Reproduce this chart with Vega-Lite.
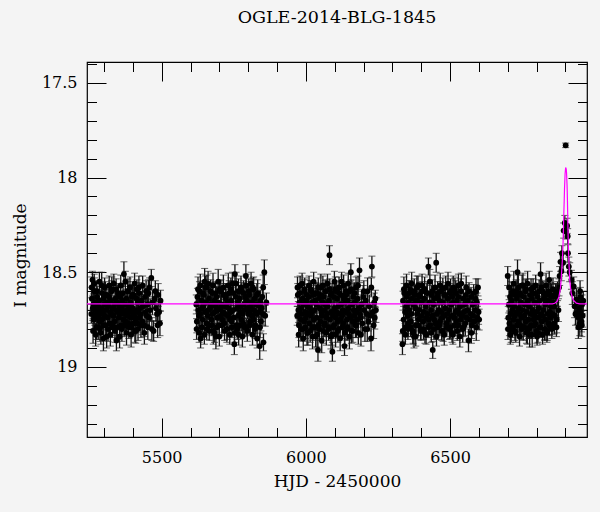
{
"$schema": "https://vega.github.io/schema/vega-lite/v6.json",
"width": 500, "height": 375,
"autosize": {"type": "none"},
"padding": {"left": 87, "top": 62, "right": 13, "bottom": 75},
"background": "#f4f4f4",
"config": {
  "view": {"stroke": "black", "strokeWidth": 1.2},
  "axis": {"domain": false, "grid": false, "tickColor": "black", "tickWidth": 1, "labelColor": "black", "labelFont": "DejaVu Serif", "labelFontSize": 16, "titleFont": "DejaVu Serif", "titleFontSize": 17, "titleFontWeight": "normal", "titleColor": "black"}
},
"title": {"text": "OGLE-2014-BLG-1845", "font": "DejaVu Serif", "fontSize": 17.5, "fontWeight": "normal", "color": "black", "baseline": "alphabetic", "offset": 21, "anchor": "middle"},
"datasets": {
"obs": [
{"t":5256,"m":18.72,"e":0.05},{"t":5258,"m":18.64,"e":0.06},{"t":5260,"m":18.54,"e":0.045},{"t":5261,"m":18.69,"e":0.065},{"t":5263,"m":18.67,"e":0.055},{"t":5265,"m":18.75,"e":0.05},{"t":5267,"m":18.60,"e":0.07},{"t":5268,"m":18.73,"e":0.05},{"t":5270,"m":18.70,"e":0.06},{"t":5272,"m":18.66,"e":0.045},
{"t":5274,"m":18.79,"e":0.065},{"t":5276,"m":18.63,"e":0.055},{"t":5277,"m":18.71,"e":0.05},{"t":5279,"m":18.68,"e":0.07},{"t":5281,"m":18.74,"e":0.05},{"t":5283,"m":18.65,"e":0.06},{"t":5285,"m":18.76,"e":0.045},{"t":5286,"m":18.80,"e":0.065},{"t":5288,"m":18.72,"e":0.055},{"t":5290,"m":18.69,"e":0.05},
{"t":5292,"m":18.57,"e":0.07},{"t":5294,"m":18.75,"e":0.05},{"t":5296,"m":18.71,"e":0.06},{"t":5297,"m":18.64,"e":0.045},{"t":5299,"m":18.78,"e":0.065},{"t":5301,"m":18.67,"e":0.055},{"t":5303,"m":18.73,"e":0.05},{"t":5305,"m":18.62,"e":0.07},{"t":5307,"m":18.70,"e":0.05},{"t":5309,"m":18.84,"e":0.06},
{"t":5311,"m":18.66,"e":0.045},{"t":5313,"m":18.74,"e":0.065},{"t":5315,"m":18.68,"e":0.055},{"t":5317,"m":18.63,"e":0.05},{"t":5319,"m":18.77,"e":0.07},{"t":5321,"m":18.71,"e":0.05},{"t":5323,"m":18.65,"e":0.06},{"t":5325,"m":18.72,"e":0.045},{"t":5327,"m":18.59,"e":0.065},{"t":5329,"m":18.79,"e":0.055},
{"t":5331,"m":18.69,"e":0.05},{"t":5333,"m":18.73,"e":0.07},{"t":5335,"m":18.67,"e":0.05},{"t":5337,"m":18.76,"e":0.06},{"t":5339,"m":18.64,"e":0.045},{"t":5341,"m":18.70,"e":0.065},{"t":5343,"m":18.86,"e":0.055},{"t":5345,"m":18.66,"e":0.05},{"t":5347,"m":18.71,"e":0.07},{"t":5349,"m":18.61,"e":0.05},
{"t":5351,"m":18.74,"e":0.06},{"t":5353,"m":18.68,"e":0.045},{"t":5355,"m":18.72,"e":0.065},{"t":5357,"m":18.63,"e":0.055},{"t":5359,"m":18.78,"e":0.05},{"t":5361,"m":18.69,"e":0.07},{"t":5363,"m":18.65,"e":0.05},{"t":5365,"m":18.71,"e":0.06},{"t":5367,"m":18.75,"e":0.045},{"t":5369,"m":18.51,"e":0.065},
{"t":5371,"m":18.72,"e":0.055},{"t":5373,"m":18.67,"e":0.05},{"t":5375,"m":18.76,"e":0.07},{"t":5377,"m":18.64,"e":0.05},{"t":5379,"m":18.70,"e":0.06},{"t":5381,"m":18.73,"e":0.045},{"t":5383,"m":18.60,"e":0.065},{"t":5385,"m":18.77,"e":0.055},{"t":5387,"m":18.68,"e":0.05},{"t":5389,"m":18.71,"e":0.07},
{"t":5391,"m":18.66,"e":0.05},{"t":5393,"m":18.74,"e":0.06},{"t":5395,"m":18.79,"e":0.045},{"t":5397,"m":18.63,"e":0.065},{"t":5399,"m":18.69,"e":0.055},{"t":5401,"m":18.72,"e":0.05},{"t":5403,"m":18.62,"e":0.07},{"t":5405,"m":18.73,"e":0.05},{"t":5407,"m":18.81,"e":0.06},{"t":5409,"m":18.75,"e":0.045},
{"t":5411,"m":18.70,"e":0.065},{"t":5413,"m":18.64,"e":0.055},{"t":5415,"m":18.77,"e":0.05},{"t":5417,"m":18.66,"e":0.07},{"t":5419,"m":18.71,"e":0.05},{"t":5421,"m":18.58,"e":0.06},{"t":5423,"m":18.74,"e":0.045},{"t":5425,"m":18.69,"e":0.065},{"t":5427,"m":18.72,"e":0.055},{"t":5430,"m":18.65,"e":0.05},
{"t":5433,"m":18.76,"e":0.07},{"t":5436,"m":18.68,"e":0.05},{"t":5439,"m":18.78,"e":0.06},{"t":5442,"m":18.63,"e":0.045},{"t":5445,"m":18.71,"e":0.065},{"t":5448,"m":18.73,"e":0.055},{"t":5451,"m":18.67,"e":0.05},{"t":5454,"m":18.61,"e":0.07},{"t":5457,"m":18.74,"e":0.05},{"t":5460,"m":18.70,"e":0.06},
{"t":5464,"m":18.53,"e":0.045},{"t":5468,"m":18.66,"e":0.065},{"t":5472,"m":18.81,"e":0.055},{"t":5476,"m":18.64,"e":0.05},{"t":5480,"m":18.69,"e":0.07},{"t":5484,"m":18.72,"e":0.05},{"t":5488,"m":18.62,"e":0.06},{"t":5491,"m":18.71,"e":0.045},{"t":5494,"m":18.77,"e":0.065},{"t":5496,"m":18.65,"e":0.055},
{"t":5257,"m":18.58,"e":0.055},{"t":5262,"m":18.81,"e":0.065},{"t":5266,"m":18.56,"e":0.05},{"t":5271,"m":18.83,"e":0.06},{"t":5275,"m":18.60,"e":0.055},{"t":5280,"m":18.79,"e":0.065},{"t":5284,"m":18.55,"e":0.05},{"t":5289,"m":18.82,"e":0.06},{"t":5293,"m":18.61,"e":0.055},{"t":5298,"m":18.85,"e":0.065},
{"t":5302,"m":18.58,"e":0.05},{"t":5306,"m":18.78,"e":0.06},{"t":5310,"m":18.62,"e":0.055},{"t":5314,"m":18.80,"e":0.065},{"t":5318,"m":18.57,"e":0.05},{"t":5322,"m":18.83,"e":0.06},{"t":5326,"m":18.60,"e":0.055},{"t":5330,"m":18.77,"e":0.065},{"t":5334,"m":18.56,"e":0.05},{"t":5338,"m":18.81,"e":0.06},
{"t":5342,"m":18.59,"e":0.055},{"t":5346,"m":18.79,"e":0.065},{"t":5350,"m":18.62,"e":0.05},{"t":5354,"m":18.84,"e":0.06},{"t":5358,"m":18.57,"e":0.055},{"t":5362,"m":18.80,"e":0.065},{"t":5366,"m":18.61,"e":0.05},{"t":5370,"m":18.78,"e":0.06},{"t":5374,"m":18.55,"e":0.055},{"t":5378,"m":18.82,"e":0.065},
{"t":5382,"m":18.60,"e":0.05},{"t":5386,"m":18.79,"e":0.06},{"t":5390,"m":18.58,"e":0.055},{"t":5394,"m":18.83,"e":0.065},{"t":5398,"m":18.62,"e":0.05},{"t":5402,"m":18.77,"e":0.06},{"t":5406,"m":18.56,"e":0.055},{"t":5410,"m":18.81,"e":0.065},{"t":5414,"m":18.59,"e":0.05},{"t":5418,"m":18.80,"e":0.06},
{"t":5422,"m":18.61,"e":0.055},{"t":5428,"m":18.78,"e":0.065},{"t":5434,"m":18.57,"e":0.05},{"t":5440,"m":18.82,"e":0.06},{"t":5446,"m":18.60,"e":0.055},{"t":5452,"m":18.79,"e":0.065},{"t":5458,"m":18.58,"e":0.05},{"t":5466,"m":18.80,"e":0.06},{"t":5478,"m":18.60,"e":0.055},{"t":5486,"m":18.78,"e":0.065},
{"t":5620,"m":18.67,"e":0.05},{"t":5622,"m":18.76,"e":0.06},{"t":5624,"m":18.63,"e":0.045},{"t":5627,"m":18.70,"e":0.065},{"t":5629,"m":18.73,"e":0.055},{"t":5631,"m":18.60,"e":0.05},{"t":5633,"m":18.72,"e":0.07},{"t":5635,"m":18.85,"e":0.05},{"t":5638,"m":18.65,"e":0.06},{"t":5640,"m":18.69,"e":0.045},
{"t":5642,"m":18.75,"e":0.065},{"t":5644,"m":18.68,"e":0.055},{"t":5646,"m":18.62,"e":0.05},{"t":5649,"m":18.55,"e":0.07},{"t":5651,"m":18.71,"e":0.05},{"t":5653,"m":18.66,"e":0.06},{"t":5655,"m":18.77,"e":0.045},{"t":5657,"m":18.58,"e":0.065},{"t":5660,"m":18.73,"e":0.055},{"t":5662,"m":18.70,"e":0.05},
{"t":5664,"m":18.64,"e":0.07},{"t":5666,"m":18.78,"e":0.05},{"t":5668,"m":18.69,"e":0.06},{"t":5671,"m":18.67,"e":0.045},{"t":5673,"m":18.75,"e":0.065},{"t":5675,"m":18.61,"e":0.055},{"t":5677,"m":18.72,"e":0.05},{"t":5679,"m":18.81,"e":0.07},{"t":5682,"m":18.65,"e":0.05},{"t":5684,"m":18.71,"e":0.06},
{"t":5686,"m":18.68,"e":0.045},{"t":5688,"m":18.84,"e":0.065},{"t":5690,"m":18.63,"e":0.055},{"t":5693,"m":18.74,"e":0.05},{"t":5695,"m":18.66,"e":0.07},{"t":5697,"m":18.70,"e":0.05},{"t":5699,"m":18.78,"e":0.06},{"t":5701,"m":18.59,"e":0.045},{"t":5704,"m":18.69,"e":0.065},{"t":5706,"m":18.73,"e":0.055},
{"t":5708,"m":18.67,"e":0.05},{"t":5710,"m":18.75,"e":0.07},{"t":5712,"m":18.71,"e":0.05},{"t":5715,"m":18.62,"e":0.06},{"t":5717,"m":18.77,"e":0.045},{"t":5719,"m":18.68,"e":0.065},{"t":5721,"m":18.72,"e":0.055},{"t":5723,"m":18.64,"e":0.05},{"t":5726,"m":18.80,"e":0.07},{"t":5728,"m":18.66,"e":0.05},
{"t":5730,"m":18.73,"e":0.06},{"t":5732,"m":18.69,"e":0.045},{"t":5734,"m":18.61,"e":0.065},{"t":5737,"m":18.75,"e":0.055},{"t":5739,"m":18.71,"e":0.05},{"t":5741,"m":18.65,"e":0.07},{"t":5743,"m":18.76,"e":0.05},{"t":5745,"m":18.56,"e":0.06},{"t":5748,"m":18.70,"e":0.045},{"t":5750,"m":18.74,"e":0.065},
{"t":5752,"m":18.88,"e":0.055},{"t":5754,"m":18.51,"e":0.05},{"t":5756,"m":18.63,"e":0.07},{"t":5759,"m":18.78,"e":0.05},{"t":5761,"m":18.69,"e":0.06},{"t":5763,"m":18.66,"e":0.045},{"t":5765,"m":18.73,"e":0.065},{"t":5767,"m":18.83,"e":0.055},{"t":5770,"m":18.64,"e":0.05},{"t":5772,"m":18.71,"e":0.07},
{"t":5774,"m":18.68,"e":0.05},{"t":5776,"m":18.75,"e":0.06},{"t":5778,"m":18.60,"e":0.045},{"t":5781,"m":18.72,"e":0.065},{"t":5783,"m":18.77,"e":0.055},{"t":5785,"m":18.67,"e":0.05},{"t":5787,"m":18.70,"e":0.07},{"t":5789,"m":18.63,"e":0.05},{"t":5792,"m":18.52,"e":0.06},{"t":5794,"m":18.79,"e":0.045},
{"t":5796,"m":18.65,"e":0.065},{"t":5798,"m":18.69,"e":0.055},{"t":5800,"m":18.72,"e":0.05},{"t":5803,"m":18.62,"e":0.07},{"t":5805,"m":18.71,"e":0.05},{"t":5807,"m":18.76,"e":0.06},{"t":5809,"m":18.68,"e":0.045},{"t":5811,"m":18.66,"e":0.065},{"t":5814,"m":18.73,"e":0.055},{"t":5816,"m":18.58,"e":0.05},
{"t":5818,"m":18.75,"e":0.07},{"t":5820,"m":18.70,"e":0.05},{"t":5822,"m":18.64,"e":0.06},{"t":5825,"m":18.78,"e":0.045},{"t":5827,"m":18.67,"e":0.065},{"t":5829,"m":18.72,"e":0.055},{"t":5831,"m":18.85,"e":0.05},{"t":5833,"m":18.61,"e":0.07},{"t":5836,"m":18.71,"e":0.05},{"t":5838,"m":18.68,"e":0.06},
{"t":5840,"m":18.89,"e":0.07},{"t":5842,"m":18.65,"e":0.055},{"t":5844,"m":18.76,"e":0.05},{"t":5847,"m":18.69,"e":0.07},{"t":5849,"m":18.63,"e":0.05},{"t":5851,"m":18.72,"e":0.06},{"t":5853,"m":18.87,"e":0.045},{"t":5856,"m":18.50,"e":0.065},{"t":5859,"m":18.73,"e":0.055},{"t":5863,"m":18.66,"e":0.05},
{"t":5621,"m":18.80,"e":0.055},{"t":5626,"m":18.59,"e":0.065},{"t":5630,"m":18.82,"e":0.05},{"t":5634,"m":18.57,"e":0.06},{"t":5639,"m":18.79,"e":0.055},{"t":5643,"m":18.61,"e":0.065},{"t":5648,"m":18.83,"e":0.05},{"t":5652,"m":18.58,"e":0.06},{"t":5656,"m":18.80,"e":0.055},{"t":5661,"m":18.56,"e":0.065},
{"t":5665,"m":18.81,"e":0.05},{"t":5670,"m":18.60,"e":0.06},{"t":5674,"m":18.78,"e":0.055},{"t":5678,"m":18.57,"e":0.065},{"t":5683,"m":18.82,"e":0.05},{"t":5687,"m":18.61,"e":0.06},{"t":5692,"m":18.79,"e":0.055},{"t":5696,"m":18.55,"e":0.065},{"t":5700,"m":18.84,"e":0.05},{"t":5705,"m":18.60,"e":0.06},
{"t":5709,"m":18.78,"e":0.055},{"t":5714,"m":18.58,"e":0.065},{"t":5718,"m":18.81,"e":0.05},{"t":5722,"m":18.62,"e":0.06},{"t":5727,"m":18.80,"e":0.055},{"t":5731,"m":18.57,"e":0.065},{"t":5736,"m":18.83,"e":0.05},{"t":5740,"m":18.59,"e":0.06},{"t":5744,"m":18.79,"e":0.055},{"t":5749,"m":18.61,"e":0.065},
{"t":5753,"m":18.82,"e":0.05},{"t":5758,"m":18.56,"e":0.06},{"t":5762,"m":18.80,"e":0.055},{"t":5766,"m":18.60,"e":0.065},{"t":5771,"m":18.78,"e":0.05},{"t":5775,"m":18.58,"e":0.06},{"t":5780,"m":18.84,"e":0.055},{"t":5784,"m":18.61,"e":0.065},{"t":5788,"m":18.79,"e":0.05},{"t":5793,"m":18.57,"e":0.06},
{"t":5797,"m":18.81,"e":0.055},{"t":5802,"m":18.60,"e":0.065},{"t":5806,"m":18.78,"e":0.05},{"t":5810,"m":18.56,"e":0.06},{"t":5815,"m":18.83,"e":0.055},{"t":5819,"m":18.59,"e":0.065},{"t":5824,"m":18.80,"e":0.05},{"t":5830,"m":18.62,"e":0.06},{"t":5841,"m":18.79,"e":0.055},{"t":5852,"m":18.58,"e":0.065},
{"t":5970,"m":18.73,"e":0.05},{"t":5972,"m":18.62,"e":0.06},{"t":5974,"m":18.70,"e":0.045},{"t":5976,"m":18.78,"e":0.065},{"t":5978,"m":18.66,"e":0.055},{"t":5980,"m":18.57,"e":0.05},{"t":5982,"m":18.75,"e":0.07},{"t":5984,"m":18.69,"e":0.05},{"t":5986,"m":18.72,"e":0.06},{"t":5988,"m":18.64,"e":0.045},
{"t":5990,"m":18.80,"e":0.065},{"t":5992,"m":18.67,"e":0.055},{"t":5994,"m":18.76,"e":0.05},{"t":5996,"m":18.60,"e":0.07},{"t":5998,"m":18.71,"e":0.05},{"t":6000,"m":18.74,"e":0.06},{"t":6002,"m":18.65,"e":0.045},{"t":6004,"m":18.82,"e":0.065},{"t":6006,"m":18.68,"e":0.055},{"t":6008,"m":18.72,"e":0.05},
{"t":6010,"m":18.63,"e":0.07},{"t":6012,"m":18.77,"e":0.05},{"t":6014,"m":18.69,"e":0.06},{"t":6016,"m":18.59,"e":0.045},{"t":6018,"m":18.73,"e":0.065},{"t":6020,"m":18.71,"e":0.055},{"t":6022,"m":18.66,"e":0.05},{"t":6024,"m":18.79,"e":0.07},{"t":6026,"m":18.62,"e":0.05},{"t":6028,"m":18.75,"e":0.06},
{"t":6030,"m":18.70,"e":0.045},{"t":6032,"m":18.65,"e":0.065},{"t":6034,"m":18.84,"e":0.055},{"t":6036,"m":18.67,"e":0.05},{"t":6038,"m":18.74,"e":0.07},{"t":6040,"m":18.61,"e":0.05},{"t":6042,"m":18.91,"e":0.06},{"t":6044,"m":18.78,"e":0.045},{"t":6046,"m":18.64,"e":0.065},{"t":6048,"m":18.69,"e":0.055},
{"t":6050,"m":18.76,"e":0.05},{"t":6052,"m":18.58,"e":0.07},{"t":6054,"m":18.71,"e":0.05},{"t":6056,"m":18.73,"e":0.06},{"t":6058,"m":18.66,"e":0.045},{"t":6060,"m":18.81,"e":0.065},{"t":6062,"m":18.63,"e":0.055},{"t":6064,"m":18.70,"e":0.05},{"t":6066,"m":18.77,"e":0.07},{"t":6068,"m":18.67,"e":0.05},
{"t":6070,"m":18.60,"e":0.06},{"t":6072,"m":18.74,"e":0.045},{"t":6074,"m":18.72,"e":0.065},{"t":6076,"m":18.68,"e":0.055},{"t":6078,"m":18.79,"e":0.05},{"t":6080,"m":18.65,"e":0.07},{"t":6082,"m":18.41,"e":0.05},{"t":6084,"m":18.75,"e":0.06},{"t":6086,"m":18.62,"e":0.045},{"t":6088,"m":18.71,"e":0.065},
{"t":6090,"m":18.83,"e":0.055},{"t":6092,"m":18.92,"e":0.05},{"t":6094,"m":18.73,"e":0.07},{"t":6096,"m":18.63,"e":0.05},{"t":6098,"m":18.78,"e":0.06},{"t":6100,"m":18.69,"e":0.045},{"t":6102,"m":18.59,"e":0.065},{"t":6104,"m":18.74,"e":0.055},{"t":6106,"m":18.71,"e":0.05},{"t":6108,"m":18.64,"e":0.07},
{"t":6110,"m":18.76,"e":0.05},{"t":6112,"m":18.68,"e":0.06},{"t":6114,"m":18.80,"e":0.045},{"t":6116,"m":18.61,"e":0.065},{"t":6118,"m":18.72,"e":0.055},{"t":6120,"m":18.75,"e":0.05},{"t":6122,"m":18.67,"e":0.07},{"t":6124,"m":18.55,"e":0.05},{"t":6126,"m":18.73,"e":0.06},{"t":6128,"m":18.70,"e":0.045},
{"t":6130,"m":18.77,"e":0.065},{"t":6132,"m":18.64,"e":0.055},{"t":6134,"m":18.89,"e":0.05},{"t":6136,"m":18.66,"e":0.07},{"t":6138,"m":18.71,"e":0.05},{"t":6140,"m":18.62,"e":0.06},{"t":6142,"m":18.75,"e":0.045},{"t":6144,"m":18.79,"e":0.065},{"t":6146,"m":18.65,"e":0.055},{"t":6148,"m":18.69,"e":0.05},
{"t":6150,"m":18.72,"e":0.07},{"t":6152,"m":18.60,"e":0.05},{"t":6154,"m":18.74,"e":0.06},{"t":6156,"m":18.50,"e":0.045},{"t":6158,"m":18.81,"e":0.065},{"t":6160,"m":18.67,"e":0.055},{"t":6162,"m":18.76,"e":0.05},{"t":6164,"m":18.63,"e":0.07},{"t":6166,"m":18.70,"e":0.05},{"t":6168,"m":18.73,"e":0.06},
{"t":6170,"m":18.66,"e":0.045},{"t":6172,"m":18.78,"e":0.065},{"t":6174,"m":18.58,"e":0.055},{"t":6176,"m":18.71,"e":0.05},{"t":6178,"m":18.75,"e":0.07},{"t":6180,"m":18.64,"e":0.05},{"t":6182,"m":18.82,"e":0.06},{"t":6184,"m":18.69,"e":0.045},{"t":6186,"m":18.49,"e":0.065},{"t":6188,"m":18.72,"e":0.055},
{"t":6190,"m":18.74,"e":0.05},{"t":6193,"m":18.67,"e":0.07},{"t":6196,"m":18.77,"e":0.05},{"t":6199,"m":18.63,"e":0.06},{"t":6202,"m":18.70,"e":0.045},{"t":6205,"m":18.80,"e":0.065},{"t":6208,"m":18.65,"e":0.055},{"t":6211,"m":18.72,"e":0.05},{"t":6214,"m":18.60,"e":0.07},{"t":6217,"m":18.76,"e":0.05},
{"t":6220,"m":18.68,"e":0.06},{"t":6223,"m":18.73,"e":0.045},{"t":6226,"m":18.85,"e":0.065},{"t":6229,"m":18.47,"e":0.055},{"t":6232,"m":18.71,"e":0.05},{"t":6235,"m":18.78,"e":0.07},{"t":6237,"m":18.66,"e":0.05},{"t":6239,"m":18.74,"e":0.06},{"t":6241,"m":18.64,"e":0.045},{"t":6243,"m":18.70,"e":0.065},
{"t":5971,"m":18.58,"e":0.055},{"t":5975,"m":18.83,"e":0.065},{"t":5979,"m":18.61,"e":0.05},{"t":5983,"m":18.80,"e":0.06},{"t":5987,"m":18.56,"e":0.055},{"t":5991,"m":18.85,"e":0.065},{"t":5995,"m":18.59,"e":0.05},{"t":5999,"m":18.79,"e":0.06},{"t":6003,"m":18.62,"e":0.055},{"t":6007,"m":18.82,"e":0.065},
{"t":6011,"m":18.57,"e":0.05},{"t":6015,"m":18.81,"e":0.06},{"t":6019,"m":18.60,"e":0.055},{"t":6023,"m":18.84,"e":0.065},{"t":6027,"m":18.55,"e":0.05},{"t":6031,"m":18.79,"e":0.06},{"t":6035,"m":18.61,"e":0.055},{"t":6039,"m":18.83,"e":0.065},{"t":6043,"m":18.58,"e":0.05},{"t":6047,"m":18.80,"e":0.06},
{"t":6051,"m":18.62,"e":0.055},{"t":6055,"m":18.86,"e":0.065},{"t":6059,"m":18.57,"e":0.05},{"t":6063,"m":18.78,"e":0.06},{"t":6067,"m":18.60,"e":0.055},{"t":6071,"m":18.82,"e":0.065},{"t":6075,"m":18.56,"e":0.05},{"t":6079,"m":18.80,"e":0.06},{"t":6083,"m":18.59,"e":0.055},{"t":6087,"m":18.84,"e":0.065},
{"t":6091,"m":18.61,"e":0.05},{"t":6095,"m":18.79,"e":0.06},{"t":6099,"m":18.55,"e":0.055},{"t":6103,"m":18.83,"e":0.065},{"t":6107,"m":18.60,"e":0.05},{"t":6111,"m":18.81,"e":0.06},{"t":6115,"m":18.58,"e":0.055},{"t":6119,"m":18.85,"e":0.065},{"t":6123,"m":18.62,"e":0.05},{"t":6127,"m":18.79,"e":0.06},
{"t":6131,"m":18.57,"e":0.055},{"t":6135,"m":18.82,"e":0.065},{"t":6139,"m":18.60,"e":0.05},{"t":6143,"m":18.80,"e":0.06},{"t":6147,"m":18.56,"e":0.055},{"t":6151,"m":18.84,"e":0.065},{"t":6157,"m":18.59,"e":0.05},{"t":6163,"m":18.81,"e":0.06},{"t":6169,"m":18.61,"e":0.055},{"t":6175,"m":18.78,"e":0.065},
{"t":6181,"m":18.57,"e":0.05},{"t":6191,"m":18.83,"e":0.06},{"t":6201,"m":18.60,"e":0.055},{"t":6213,"m":18.80,"e":0.065},{"t":6227,"m":18.58,"e":0.05},
{"t":6335,"m":18.88,"e":0.055},{"t":6337,"m":18.65,"e":0.05},{"t":6339,"m":18.75,"e":0.07},{"t":6341,"m":18.61,"e":0.05},{"t":6344,"m":18.71,"e":0.06},{"t":6346,"m":18.79,"e":0.045},{"t":6348,"m":18.68,"e":0.065},{"t":6350,"m":18.63,"e":0.055},{"t":6353,"m":18.73,"e":0.05},{"t":6355,"m":18.77,"e":0.07},
{"t":6357,"m":18.66,"e":0.05},{"t":6359,"m":18.70,"e":0.06},{"t":6362,"m":18.59,"e":0.045},{"t":6364,"m":18.76,"e":0.065},{"t":6366,"m":18.72,"e":0.055},{"t":6368,"m":18.64,"e":0.05},{"t":6371,"m":18.81,"e":0.07},{"t":6373,"m":18.67,"e":0.05},{"t":6375,"m":18.84,"e":0.06},{"t":6377,"m":18.62,"e":0.045},
{"t":6380,"m":18.69,"e":0.065},{"t":6382,"m":18.78,"e":0.055},{"t":6384,"m":18.65,"e":0.05},{"t":6386,"m":18.72,"e":0.07},{"t":6389,"m":18.57,"e":0.05},{"t":6391,"m":18.75,"e":0.06},{"t":6393,"m":18.70,"e":0.045},{"t":6395,"m":18.63,"e":0.065},{"t":6398,"m":18.80,"e":0.055},{"t":6400,"m":18.66,"e":0.05},
{"t":6402,"m":18.73,"e":0.07},{"t":6404,"m":18.60,"e":0.05},{"t":6407,"m":18.76,"e":0.06},{"t":6409,"m":18.71,"e":0.045},{"t":6411,"m":18.64,"e":0.065},{"t":6413,"m":18.82,"e":0.055},{"t":6416,"m":18.68,"e":0.05},{"t":6418,"m":18.74,"e":0.07},{"t":6420,"m":18.61,"e":0.05},{"t":6422,"m":18.72,"e":0.06},
{"t":6425,"m":18.47,"e":0.045},{"t":6427,"m":18.75,"e":0.065},{"t":6429,"m":18.66,"e":0.055},{"t":6431,"m":18.78,"e":0.05},{"t":6434,"m":18.70,"e":0.07},{"t":6436,"m":18.62,"e":0.05},{"t":6438,"m":18.73,"e":0.06},{"t":6440,"m":18.91,"e":0.045},{"t":6443,"m":18.67,"e":0.065},{"t":6445,"m":18.75,"e":0.055},
{"t":6447,"m":18.64,"e":0.05},{"t":6449,"m":18.77,"e":0.07},{"t":6452,"m":18.45,"e":0.05},{"t":6454,"m":18.72,"e":0.06},{"t":6456,"m":18.63,"e":0.045},{"t":6458,"m":18.79,"e":0.065},{"t":6461,"m":18.70,"e":0.055},{"t":6463,"m":18.65,"e":0.05},{"t":6465,"m":18.76,"e":0.07},{"t":6467,"m":18.60,"e":0.05},
{"t":6470,"m":18.71,"e":0.06},{"t":6472,"m":18.74,"e":0.045},{"t":6474,"m":18.66,"e":0.065},{"t":6476,"m":18.81,"e":0.055},{"t":6479,"m":18.62,"e":0.05},{"t":6481,"m":18.73,"e":0.07},{"t":6483,"m":18.69,"e":0.05},{"t":6485,"m":18.58,"e":0.06},{"t":6488,"m":18.77,"e":0.045},{"t":6490,"m":18.72,"e":0.065},
{"t":6492,"m":18.64,"e":0.055},{"t":6494,"m":18.75,"e":0.05},{"t":6497,"m":18.70,"e":0.07},{"t":6499,"m":18.61,"e":0.05},{"t":6501,"m":18.79,"e":0.06},{"t":6503,"m":18.67,"e":0.045},{"t":6506,"m":18.73,"e":0.065},{"t":6508,"m":18.63,"e":0.055},{"t":6510,"m":18.83,"e":0.05},{"t":6512,"m":18.66,"e":0.07},
{"t":6515,"m":18.74,"e":0.05},{"t":6517,"m":18.59,"e":0.06},{"t":6519,"m":18.71,"e":0.045},{"t":6521,"m":18.76,"e":0.065},{"t":6524,"m":18.65,"e":0.055},{"t":6526,"m":18.70,"e":0.05},{"t":6528,"m":18.78,"e":0.07},{"t":6530,"m":18.63,"e":0.05},{"t":6533,"m":18.72,"e":0.06},{"t":6535,"m":18.68,"e":0.045},
{"t":6537,"m":18.75,"e":0.065},{"t":6539,"m":18.56,"e":0.055},{"t":6542,"m":18.73,"e":0.05},{"t":6544,"m":18.80,"e":0.07},{"t":6546,"m":18.64,"e":0.05},{"t":6548,"m":18.71,"e":0.06},{"t":6551,"m":18.67,"e":0.045},{"t":6553,"m":18.77,"e":0.065},{"t":6555,"m":18.62,"e":0.055},{"t":6557,"m":18.74,"e":0.05},
{"t":6560,"m":18.70,"e":0.07},{"t":6562,"m":18.65,"e":0.05},{"t":6564,"m":18.86,"e":0.06},{"t":6566,"m":18.60,"e":0.045},{"t":6569,"m":18.75,"e":0.065},{"t":6571,"m":18.72,"e":0.055},{"t":6573,"m":18.63,"e":0.05},{"t":6575,"m":18.78,"e":0.07},{"t":6578,"m":18.67,"e":0.05},{"t":6580,"m":18.73,"e":0.06},
{"t":6582,"m":18.61,"e":0.045},{"t":6584,"m":18.76,"e":0.065},{"t":6587,"m":18.70,"e":0.055},{"t":6589,"m":18.64,"e":0.05},{"t":6591,"m":18.79,"e":0.07},{"t":6593,"m":18.66,"e":0.05},{"t":6595,"m":18.74,"e":0.06},{"t":6597,"m":18.58,"e":0.045},{"t":6599,"m":18.71,"e":0.065},{"t":6601,"m":18.75,"e":0.055},
{"t":6336,"m":18.81,"e":0.055},{"t":6340,"m":18.59,"e":0.065},{"t":6345,"m":18.83,"e":0.05},{"t":6349,"m":18.57,"e":0.06},{"t":6354,"m":18.80,"e":0.055},{"t":6358,"m":18.61,"e":0.065},{"t":6363,"m":18.79,"e":0.05},{"t":6367,"m":18.56,"e":0.06},{"t":6372,"m":18.82,"e":0.055},{"t":6376,"m":18.60,"e":0.065},
{"t":6381,"m":18.84,"e":0.05},{"t":6385,"m":18.58,"e":0.06},{"t":6390,"m":18.78,"e":0.055},{"t":6394,"m":18.62,"e":0.065},{"t":6399,"m":18.81,"e":0.05},{"t":6403,"m":18.57,"e":0.06},{"t":6408,"m":18.80,"e":0.055},{"t":6412,"m":18.59,"e":0.065},{"t":6417,"m":18.83,"e":0.05},{"t":6421,"m":18.61,"e":0.06},
{"t":6426,"m":18.79,"e":0.055},{"t":6430,"m":18.55,"e":0.065},{"t":6435,"m":18.82,"e":0.05},{"t":6439,"m":18.60,"e":0.06},{"t":6444,"m":18.80,"e":0.055},{"t":6448,"m":18.58,"e":0.065},{"t":6453,"m":18.84,"e":0.05},{"t":6457,"m":18.61,"e":0.06},{"t":6462,"m":18.78,"e":0.055},{"t":6466,"m":18.57,"e":0.065},
{"t":6471,"m":18.81,"e":0.05},{"t":6475,"m":18.59,"e":0.06},{"t":6480,"m":18.83,"e":0.055},{"t":6484,"m":18.62,"e":0.065},{"t":6489,"m":18.79,"e":0.05},{"t":6493,"m":18.56,"e":0.06},{"t":6498,"m":18.80,"e":0.055},{"t":6502,"m":18.60,"e":0.065},{"t":6507,"m":18.82,"e":0.05},{"t":6511,"m":18.58,"e":0.06},
{"t":6516,"m":18.78,"e":0.055},{"t":6520,"m":18.61,"e":0.065},{"t":6525,"m":18.81,"e":0.05},{"t":6529,"m":18.57,"e":0.06},{"t":6534,"m":18.84,"e":0.055},{"t":6538,"m":18.60,"e":0.065},{"t":6547,"m":18.79,"e":0.05},{"t":6556,"m":18.58,"e":0.06},{"t":6574,"m":18.82,"e":0.055},{"t":6590,"m":18.60,"e":0.065},
{"t":6700,"m":18.52,"e":0.05},{"t":6702,"m":18.74,"e":0.06},{"t":6704,"m":18.67,"e":0.045},{"t":6706,"m":18.77,"e":0.065},{"t":6708,"m":18.63,"e":0.055},{"t":6710,"m":18.72,"e":0.05},{"t":6712,"m":18.80,"e":0.07},{"t":6714,"m":18.65,"e":0.05},{"t":6716,"m":18.70,"e":0.06},{"t":6718,"m":18.60,"e":0.045},
{"t":6720,"m":18.75,"e":0.065},{"t":6722,"m":18.68,"e":0.055},{"t":6724,"m":18.73,"e":0.05},{"t":6726,"m":18.62,"e":0.07},{"t":6728,"m":18.82,"e":0.05},{"t":6730,"m":18.71,"e":0.06},{"t":6732,"m":18.64,"e":0.045},{"t":6734,"m":18.50,"e":0.065},{"t":6736,"m":18.76,"e":0.055},{"t":6738,"m":18.69,"e":0.05},
{"t":6740,"m":18.72,"e":0.07},{"t":6742,"m":18.61,"e":0.05},{"t":6744,"m":18.78,"e":0.06},{"t":6746,"m":18.66,"e":0.045},{"t":6748,"m":18.74,"e":0.065},{"t":6750,"m":18.57,"e":0.055},{"t":6752,"m":18.70,"e":0.05},{"t":6754,"m":18.79,"e":0.07},{"t":6756,"m":18.63,"e":0.05},{"t":6758,"m":18.73,"e":0.06},
{"t":6760,"m":18.67,"e":0.045},{"t":6762,"m":18.76,"e":0.065},{"t":6764,"m":18.59,"e":0.055},{"t":6766,"m":18.71,"e":0.05},{"t":6768,"m":18.81,"e":0.07},{"t":6770,"m":18.65,"e":0.05},{"t":6772,"m":18.75,"e":0.06},{"t":6774,"m":18.68,"e":0.045},{"t":6776,"m":18.83,"e":0.065},{"t":6778,"m":18.62,"e":0.055},
{"t":6780,"m":18.72,"e":0.05},{"t":6782,"m":18.78,"e":0.07},{"t":6784,"m":18.64,"e":0.05},{"t":6786,"m":18.70,"e":0.06},{"t":6788,"m":18.58,"e":0.045},{"t":6790,"m":18.75,"e":0.065},{"t":6792,"m":18.73,"e":0.055},{"t":6794,"m":18.66,"e":0.05},{"t":6796,"m":18.77,"e":0.07},{"t":6798,"m":18.61,"e":0.05},
{"t":6800,"m":18.71,"e":0.06},{"t":6802,"m":18.84,"e":0.045},{"t":6804,"m":18.63,"e":0.065},{"t":6806,"m":18.74,"e":0.055},{"t":6808,"m":18.69,"e":0.05},{"t":6810,"m":18.65,"e":0.07},{"t":6812,"m":18.79,"e":0.05},{"t":6814,"m":18.51,"e":0.06},{"t":6816,"m":18.72,"e":0.045},{"t":6818,"m":18.76,"e":0.065},
{"t":6820,"m":18.60,"e":0.055},{"t":6822,"m":18.73,"e":0.05},{"t":6824,"m":18.70,"e":0.07},{"t":6826,"m":18.64,"e":0.05},{"t":6828,"m":18.80,"e":0.06},{"t":6830,"m":18.67,"e":0.045},{"t":6832,"m":18.75,"e":0.065},{"t":6834,"m":18.62,"e":0.055},{"t":6836,"m":18.82,"e":0.05},{"t":6838,"m":18.72,"e":0.07},
{"t":6840,"m":18.65,"e":0.05},{"t":6842,"m":18.77,"e":0.06},{"t":6844,"m":18.54,"e":0.045},{"t":6846,"m":18.71,"e":0.065},{"t":6848,"m":18.74,"e":0.055},{"t":6850,"m":18.68,"e":0.05},{"t":6852,"m":18.63,"e":0.07},{"t":6854,"m":18.78,"e":0.05},{"t":6856,"m":18.72,"e":0.06},{"t":6858,"m":18.66,"e":0.045},
{"t":6861,"m":18.68,"e":0.065},{"t":6864,"m":18.73,"e":0.055},{"t":6867,"m":18.61,"e":0.05},{"t":6870,"m":18.75,"e":0.07},{"t":6873,"m":18.60,"e":0.05},{"t":6876,"m":18.70,"e":0.06},{"t":6878,"m":18.58,"e":0.045},{"t":6880,"m":18.52,"e":0.05},
{"t":6701,"m":18.80,"e":0.055},{"t":6705,"m":18.58,"e":0.065},{"t":6709,"m":18.83,"e":0.05},{"t":6713,"m":18.61,"e":0.06},{"t":6717,"m":18.79,"e":0.055},{"t":6721,"m":18.56,"e":0.065},{"t":6725,"m":18.81,"e":0.05},{"t":6729,"m":18.60,"e":0.06},{"t":6733,"m":18.78,"e":0.055},{"t":6737,"m":18.58,"e":0.065},
{"t":6741,"m":18.84,"e":0.05},{"t":6745,"m":18.62,"e":0.06},{"t":6749,"m":18.80,"e":0.055},{"t":6753,"m":18.57,"e":0.065},{"t":6757,"m":18.79,"e":0.05},{"t":6761,"m":18.60,"e":0.06},{"t":6765,"m":18.82,"e":0.055},{"t":6769,"m":18.56,"e":0.065},{"t":6773,"m":18.80,"e":0.05},{"t":6777,"m":18.79,"e":0.06},
{"t":6781,"m":18.59,"e":0.055},{"t":6785,"m":18.83,"e":0.065},{"t":6789,"m":18.61,"e":0.05},{"t":6793,"m":18.78,"e":0.06},{"t":6797,"m":18.57,"e":0.055},{"t":6801,"m":18.81,"e":0.065},{"t":6805,"m":18.82,"e":0.05},{"t":6809,"m":18.60,"e":0.06},{"t":6813,"m":18.79,"e":0.055},{"t":6817,"m":18.58,"e":0.065},
{"t":6821,"m":18.83,"e":0.05},{"t":6825,"m":18.61,"e":0.06},{"t":6829,"m":18.80,"e":0.055},{"t":6833,"m":18.57,"e":0.065},{"t":6837,"m":18.81,"e":0.05},{"t":6841,"m":18.60,"e":0.06},{"t":6845,"m":18.78,"e":0.055},{"t":6849,"m":18.62,"e":0.065},{"t":6853,"m":18.80,"e":0.05},{"t":6857,"m":18.59,"e":0.06},
{"t":6862,"m":18.77,"e":0.055},{"t":6866,"m":18.63,"e":0.065},{"t":6869,"m":18.79,"e":0.05},{"t":6872,"m":18.62,"e":0.06},
{"t":6883,"m":18.445,"e":0.05},{"t":6886,"m":18.495,"e":0.05},{"t":6888,"m":18.40,"e":0.04},{"t":6892,"m":18.45,"e":0.05},{"t":6894,"m":18.28,"e":0.04},{"t":6898,"m":18.24,"e":0.04},{"t":6901,"m":17.83,"e":0.012},{"t":6902,"m":18.285,"e":0.04},{"t":6906,"m":18.255,"e":0.04},{"t":6908,"m":18.31,"e":0.04},
{"t":6909,"m":18.40,"e":0.045},{"t":6912,"m":18.47,"e":0.05},{"t":6915,"m":18.50,"e":0.05},{"t":6921,"m":18.54,"e":0.05},{"t":6924,"m":18.61,"e":0.06},{"t":6929,"m":18.575,"e":0.05},{"t":6932,"m":18.68,"e":0.06},{"t":6935,"m":18.72,"e":0.06},{"t":6938,"m":18.645,"e":0.06},{"t":6941,"m":18.715,"e":0.06},
{"t":6944,"m":18.66,"e":0.05},{"t":6946,"m":18.74,"e":0.06},{"t":6948,"m":18.69,"e":0.05},{"t":6950,"m":18.77,"e":0.065},{"t":6952,"m":18.63,"e":0.05},{"t":6954,"m":18.71,"e":0.06},{"t":6956,"m":18.76,"e":0.055},{"t":6958,"m":18.67,"e":0.05},{"t":6960,"m":18.73,"e":0.06},{"t":6962,"m":18.65,"e":0.05},
{"t":6945,"m":18.79,"e":0.06},{"t":6951,"m":18.60,"e":0.055},{"t":6957,"m":18.78,"e":0.06}
],
"model": [
{"t":5241,"m":18.667},{"t":6855,"m":18.667},{"t":6863,"m":18.664},{"t":6871,"m":18.655},{"t":6878,"m":18.628},{"t":6883,"m":18.584},{"t":6886,"m":18.523},{"t":6888,"m":18.475},{"t":6890,"m":18.425},{"t":6892,"m":18.346},{"t":6894,"m":18.223},{"t":6896,"m":18.12},{"t":6897,"m":18.06},{"t":6899,"m":17.98},{"t":6901,"m":17.947},{"t":6903,"m":17.955},{"t":6904,"m":17.975},{"t":6906,"m":18.047},{"t":6907,"m":18.11},{"t":6908,"m":18.188},{"t":6909,"m":18.27},{"t":6910,"m":18.34},{"t":6912,"m":18.435},{"t":6915,"m":18.54},{"t":6920,"m":18.61},{"t":6927,"m":18.646},{"t":6938,"m":18.663},{"t":6950,"m":18.667},{"t":6975,"m":18.667}
]
},
"resolve": {"axis": {"x": "independent", "y": "independent"}},
"layer": [
{
 "data": {"name": "obs"},
 "mark": {"type": "errorbar", "color": "black", "ticks": {"size": 7, "color": "#222222"}, "rule": {"strokeWidth": 1.3, "color": "#111111"}},
 "encoding": {
  "x": {"field": "t", "type": "quantitative", "scale": {"domain": [5241, 6975], "nice": false, "zero": false},
        "axis": {"orient": "bottom", "values": [5500, 6000, 6500], "format": "d", "tickSize": -19, "labelPadding": 44, "labelBaseline": "alphabetic", "title": "HJD - 2450000", "titleBaseline": "alphabetic", "titleY": 49.5}},
  "y": {"field": "m", "type": "quantitative", "scale": {"domain": [17.39, 19.37], "reverse": true, "nice": false, "zero": false},
        "axis": {"orient": "left", "values": [17.5, 18, 18.5, 19], "format": "~g", "tickSize": -19, "labelPadding": 29, "title": "I magnitude", "titleBaseline": "alphabetic", "titleX": -62, "titleY": 193, "titleAngle": -90}},
  "yError": {"field": "e"}
 }
},
{
 "data": {"name": "obs"},
 "mark": {"type": "circle", "color": "black", "opacity": 1, "size": 34},
 "encoding": {
  "x": {"field": "t", "type": "quantitative", "axis": {"orient": "bottom", "values": [5300,5400,5600,5700,5800,5900,6100,6200,6300,6400,6600,6700,6800,6900], "tickSize": -9.5, "labels": false, "title": null}},
  "y": {"field": "m", "type": "quantitative", "axis": {"orient": "left", "values": [17.4,17.6,17.7,17.8,17.9,18.1,18.2,18.3,18.4,18.6,18.7,18.8,18.9,19.1,19.2,19.3], "tickSize": -9.5, "labels": false, "title": null}}
 }
},
{
 "data": {"name": "model"},
 "mark": {"type": "line", "color": "#ff00ff", "strokeWidth": 1.2},
 "encoding": {
  "x": {"field": "t", "type": "quantitative", "axis": {"orient": "top", "values": [5500, 6000, 6500], "tickSize": -19, "labels": false, "title": null}},
  "y": {"field": "m", "type": "quantitative", "axis": {"orient": "right", "values": [17.5, 18, 18.5, 19], "tickSize": -19, "labels": false, "title": null}}
 }
},
{
 "data": {"name": "model"},
 "mark": {"type": "line", "opacity": 0},
 "encoding": {
  "x": {"field": "t", "type": "quantitative", "axis": {"orient": "top", "values": [5300,5400,5600,5700,5800,5900,6100,6200,6300,6400,6600,6700,6800,6900], "tickSize": -9.5, "labels": false, "title": null}},
  "y": {"field": "m", "type": "quantitative", "axis": {"orient": "right", "values": [17.4,17.6,17.7,17.8,17.9,18.1,18.2,18.3,18.4,18.6,18.7,18.8,18.9,19.1,19.2,19.3], "tickSize": -9.5, "labels": false, "title": null}}
 }
}
]
}
